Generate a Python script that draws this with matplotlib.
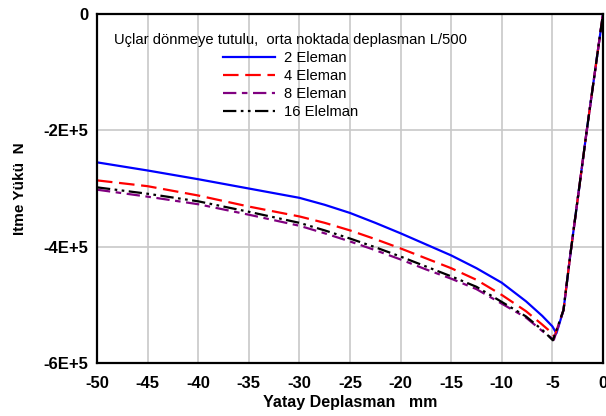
import matplotlib
matplotlib.use("Agg")
import matplotlib.pyplot as plt
from matplotlib.ticker import FuncFormatter

plt.rcParams['font.family'] = ['Liberation Sans', 'DejaVu Sans']

# Horizontal displacement (mm) and push load (N, x1e5) for each mesh
x_2 = [-50, -45, -40, -35, -30, -27.5, -25, -22.5, -20, -17.5, -15, -12.5, -10, -7.6, -6.0, -5.0, -4.6, -3.9, -3.25, -1.6, 0]
y_2 = [-2.55, -2.69, -2.84, -3.00, -3.16, -3.28, -3.42, -3.59, -3.77, -3.96, -4.15, -4.37, -4.62, -4.94, -5.19, -5.37, -5.49, -5.09, -4.17, -2.0, 0]

x_4 = [-50, -45, -40, -35, -30, -27.5, -25, -22.5, -20, -17.5, -15, -12.5, -10, -7.6, -6.0, -5.0, -4.8, -3.9, -3.25, -1.6, 0]
y_4 = [-2.86, -2.96, -3.12, -3.31, -3.48, -3.59, -3.72, -3.87, -4.03, -4.20, -4.37, -4.57, -4.83, -5.11, -5.34, -5.49, -5.55, -5.09, -4.17, -2.0, 0]

x_8 = [-50, -45, -40, -35, -30, -27.5, -25, -22.5, -20, -17.5, -15, -12.5, -10, -7.6, -6.0, -4.85, -3.9, -3.25, -1.6, 0]
y_8 = [-3.02, -3.14, -3.27, -3.45, -3.64, -3.77, -3.91, -4.06, -4.22, -4.39, -4.55, -4.73, -4.98, -5.22, -5.45, -5.60, -5.09, -4.17, -2.0, 0]

x_16 = [-50, -45, -40, -35, -30, -27.5, -25, -22.5, -20, -17.5, -15, -12.5, -10, -7.6, -6.0, -4.95, -3.9, -3.25, -1.6, 0]
y_16 = [-2.98, -3.09, -3.22, -3.40, -3.59, -3.72, -3.86, -4.01, -4.17, -4.34, -4.51, -4.69, -4.95, -5.20, -5.43, -5.61, -5.09, -4.17, -2.0, 0]

labels = ['2 Eleman', '4 Eleman', '8 Eleman', '16 Elelman']
x_ticks = [-50, -45, -40, -35, -30, -25, -20, -15, -10, -5, 0]
y_ticks = [0, -2e5, -4e5, -6e5]
y_ticklabels = ['0', '-2E+5', '-4E+5', '-6E+5']

fig = plt.figure(figsize=(6.06, 4.16), dpi=100)
ax = fig.add_axes([0.160, 0.1274, 0.835, 0.8389])

series = [
    (x_2, y_2, '#0000ff', '-'),
    (x_4, y_4, '#ff0000', (0, (7, 3))),
    (x_8, y_8, '#800080', (0, (6, 2.5, 2.5, 2.5))),
    (x_16, y_16, '#000000', (0, (6, 2, 1.2, 2, 1.2, 2))),
]
for (xs, ys, c, ls), lab in zip(series, labels):
    ax.plot(xs, [v * 1e5 for v in ys], color=c, linestyle=ls, lw=1.6, label=lab)

ax.set_xlim(-50, 0)
ax.set_ylim(-6e5, 0)
ax.set_xticks(x_ticks)
ax.set_yticks(y_ticks)
ax.set_yticklabels(y_ticklabels)
ax.xaxis.set_major_formatter(FuncFormatter(lambda v, p: f'{int(v)}'))
ax.grid(True, color='#c8c8c8', lw=1.2)
ax.set_axisbelow(True)
ax.tick_params(length=0, labelsize=12)
ax.tick_params(axis='x', pad=9)
ax.tick_params(axis='y', pad=6)
for lab in ax.get_xticklabels() + ax.get_yticklabels():
    lab.set_fontweight('bold')
for s in ax.spines.values():
    s.set_linewidth(1.6)
    s.set_color('black')

ax.set_xlabel('Yatay Deplasman   mm', fontsize=11.5, fontweight='bold', labelpad=3)
ax.set_ylabel('Itme Yükü  N', fontsize=11, fontweight='bold', labelpad=12)

leg = ax.legend(title='Uçlar dönmeye tutulu,  orta noktada deplasman L/500',
                loc='upper center', bbox_to_anchor=(0.383, 0.975), frameon=False,
                fontsize=10.6, title_fontsize=10.6, handlelength=3.5,
                handletextpad=0.6, labelspacing=0.27, borderpad=0.2)

fig.savefig('out.png', dpi=100)
